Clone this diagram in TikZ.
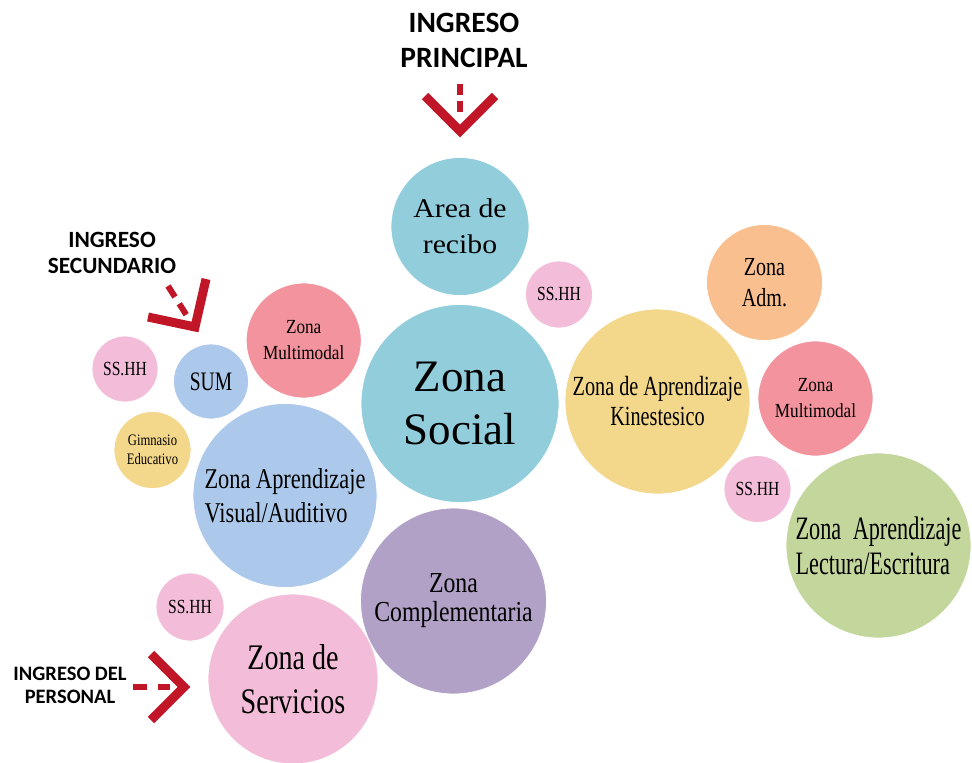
\documentclass[tikz,border=0pt]{standalone}
\usepackage{fontspec}
\setmainfont{Liberation Serif}
\newfontfamily\ingfont{Carlito}
\definecolor{socialteal}{RGB}{146,205,220}
\definecolor{visualblue}{RGB}{172,200,234}
\definecolor{comppurple}{RGB}{178,161,199}
\definecolor{lectgreen}{RGB}{195,214,155}
\definecolor{admorange}{RGB}{249,191,143}
\definecolor{kinyellow}{RGB}{243,215,138}
\definecolor{multired}{RGB}{242,147,158}
\definecolor{sshhpink}{RGB}{243,189,217}
\definecolor{ingresored}{RGB}{192,22,40}
\newcommand\zfont[3]{\addfontfeature{FakeStretch=#1}\fontsize{#2}{#3}\selectfont}

\begin{document}
\begin{tikzpicture}[x=1pt,y=-1pt,
  every node/.style={inner sep=0pt},
  zone/.style={circle,draw=white,line width=.8pt,minimum size=#1pt,align=center},
  ingtext/.style={align=center,font=\ingfont\bfseries},
  ingreso/.style={draw=ingresored,line width=9pt,line join=miter},
  ingresodash/.style={draw=ingresored,line width=6pt}]
  \useasboundingbox (0,0) rectangle (972,763);

  % Central column: reception and social zone.
  \node[zone=138,fill=socialteal,font=\zfont{1.1}{27}{36}] (recibo) at (460,226.5)
    {Area de\\recibo};
  \node[zone=198,fill=socialteal,font=\fontsize{45}{53}\selectfont] (social) at (460,403.5)
    {Zona\\Social};
  \node[zone=67,fill=sshhpink,font=\zfont{0.78}{20}{24}] (sshhA) at (559,294.5) {SS.HH};

  % Right wing.
  \node[zone=116,fill=admorange,font=\zfont{0.77}{26}{31}] (adm) at (764.5,282.5)
    {Zona\\Adm.};
  \node[zone=185,fill=kinyellow,font=\zfont{0.73}{27.7}{30}] (kines) at (657.5,401.5)
    {Zona de Aprendizaje\\Kinestesico};
  \node[zone=115,fill=multired,font=\zfont{0.86}{20}{26}] (multiB) at (815.5,398.5)
    {Zona\\Multimodal};
  \node[zone=67,fill=sshhpink,font=\zfont{0.78}{20}{24}] (sshhB) at (757.5,489) {SS.HH};
  \node[zone=185,fill=lectgreen,font=\zfont{0.68}{32.7}{35},align=left] (lect) at (878.5,545.5)
    {Zona\hspace{6pt} Aprendizaje\\Lectura/Escritura};

  % Left wing.
  \node[zone=115,fill=multired,font=\zfont{0.86}{20}{26}] (multiA) at (303.7,340.5)
    {Zona\\Multimodal};
  \node[zone=75,fill=visualblue,font=\zfont{0.73}{26.7}{30}] (sum) at (211,381.5) {SUM};
  \node[zone=66,fill=sshhpink,font=\zfont{0.78}{20}{24}] (sshhC) at (125,369) {SS.HH};
  \node[zone=77,fill=kinyellow,font=\zfont{0.79}{16}{19.5}] (gim) at (152.5,450)
    {Gimnasio\\Educativo};
  \node[zone=184,fill=visualblue,font=\zfont{0.78}{28.7}{34},align=left] (visual) at (285,495.5)
    {Zona Aprendizaje\\Visual/Auditivo};

  % Lower row.
  \node[zone=186,fill=comppurple,font=\zfont{0.82}{29}{29}] (comp) at (453.5,601)
    {Zona\\Complementaria};
  \node[zone=68,fill=sshhpink,font=\zfont{0.78}{20}{24}] (sshhD) at (190,607) {SS.HH};
  \node[zone=170,fill=sshhpink,font=\zfont{0.78}{36}{44}] (serv) at (293,679)
    {Zona de\\Servicios};

  % Entrances.
  \node[ingtext,font=\ingfont\bfseries\fontsize{29.5}{35}\selectfont] (principal) at (464,40)
    {INGRESO\\PRINCIPAL};
  \draw[ingresodash,dash pattern=on 11pt off 6pt] (460,84) -- (460,113);
  \draw[ingreso] (425,96) -- (460,131) -- (495,96);

  \node[ingtext,font=\ingfont\bfseries\fontsize{23.3}{26}\selectfont] (secundario) at (112,252.5)
    {INGRESO\\SECUNDARIO};
  \draw[ingresodash,dash pattern=on 13pt off 8pt] (168,286) -- (186.2,314.7);
  \draw[ingreso] (206,279) -- (195,327) -- (148,317);

  \node[ingtext,font=\ingfont\bfseries\fontsize{20.5}{23}\selectfont] (personal) at (70,685)
    {INGRESO DEL\\PERSONAL};
  \draw[ingresodash,dash pattern=on 14pt off 11pt] (133,687) -- (170,687);
  \draw[ingreso] (151,654) -- (184,687) -- (151,720);
\end{tikzpicture}
\end{document}
